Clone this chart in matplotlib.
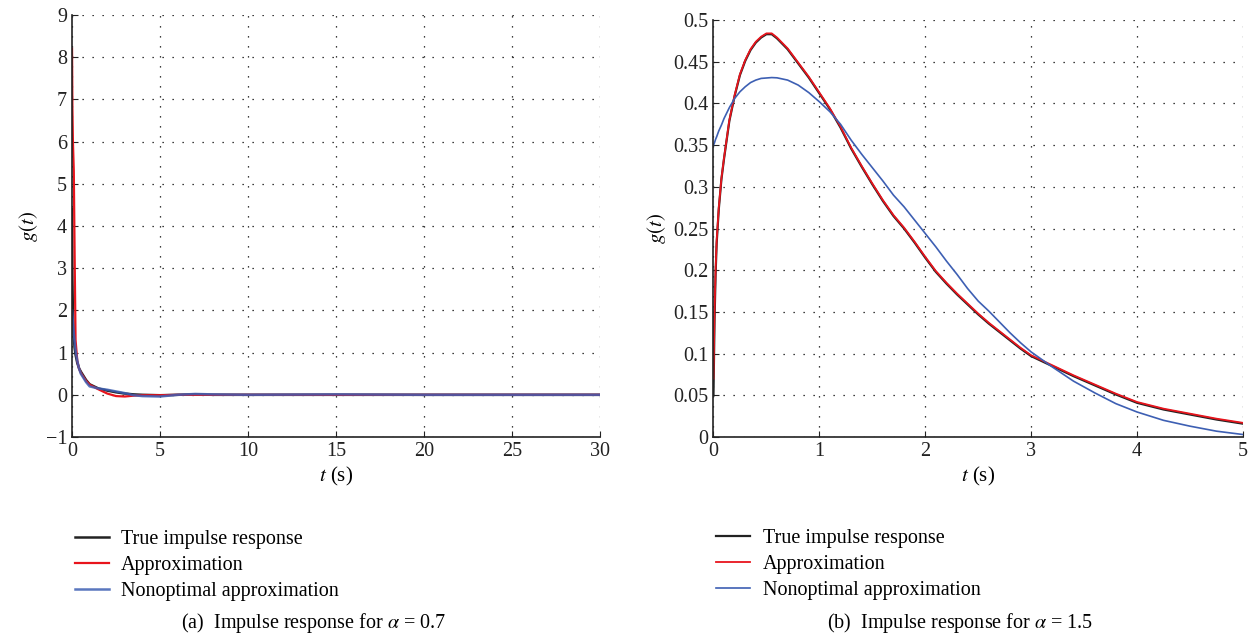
import matplotlib
matplotlib.use("Agg")
import matplotlib.pyplot as plt
from matplotlib.ticker import FuncFormatter

plt.rcParams['font.family'] = ['Liberation Serif', 'DejaVu Serif']
plt.rcParams['mathtext.fontset'] = 'stix'
plt.rcParams['axes.unicode_minus'] = True

# (a) alpha = 0.7
t_a = [0, 0.02, 0.05, 0.1, 0.15, 0.2, 0.3, 0.4, 0.5, 0.8, 1.0, 1.5, 2.0, 2.5,
       3.0, 3.5, 4.0, 5.0, 6.0, 7.0, 8.0, 10.0, 15.0, 20.0, 25.0, 30.0]
true_a = [4.4, 2.8, 1.9, 1.35, 1.1, 0.95, 0.75, 0.63, 0.55, 0.35, 0.25, 0.15, 0.1, 0.06,
          0.03, 0.01, 0.0, -0.01, 0.0, 0.01, 0.0, 0.0, 0.0, 0.0, 0.0, 0.0]
approx_a = [8.2, 6.8, 6.0, 5.3, 3.2, 1.3, 0.8, 0.62, 0.52, 0.33, 0.24, 0.13, 0.03, -0.03,
            -0.04, -0.02, -0.01, -0.01, 0.0, 0.0, 0.0, 0.0, 0.0, 0.0, 0.0, 0.0]
nonopt_a = [2.0, 1.9, 1.7, 1.45, 1.25, 1.05, 0.8, 0.62, 0.5, 0.3, 0.2, 0.15, 0.12, 0.08,
            0.04, -0.01, -0.03, -0.04, 0.0, 0.02, 0.01, 0.0, 0.01, 0.0, 0.0, 0.0]

# (b) alpha = 1.5
t_b = [0, 0.01, 0.02, 0.03, 0.05, 0.075, 0.1, 0.15, 0.2, 0.25, 0.3, 0.35, 0.4, 0.45,
       0.5, 0.55, 0.6, 0.7, 0.8, 0.9, 1.0, 1.1, 1.2, 1.3, 1.4, 1.5, 1.6, 1.7, 1.8, 1.9,
       2.0, 2.1, 2.2, 2.3, 2.4, 2.5, 2.6, 2.7, 2.8, 2.9, 3.0, 3.2, 3.4, 3.6, 3.8, 4.0,
       4.25, 4.5, 4.75, 5.0]
true_b = [0.05, 0.14, 0.195, 0.232, 0.273, 0.309, 0.334, 0.379, 0.409, 0.434, 0.451, 0.464,
          0.473, 0.479, 0.483, 0.483, 0.478, 0.465, 0.448, 0.431, 0.412, 0.393, 0.371, 0.346,
          0.324, 0.303, 0.283, 0.265, 0.25, 0.233, 0.215, 0.198, 0.184, 0.171, 0.159, 0.147,
          0.136, 0.126, 0.116, 0.106, 0.097, 0.085, 0.073, 0.062, 0.051, 0.041, 0.033, 0.027,
          0.021, 0.016]
approx_b = [0.07, 0.15, 0.2, 0.235, 0.275, 0.31, 0.335, 0.38, 0.41, 0.435, 0.452, 0.465,
            0.474, 0.48, 0.484, 0.484, 0.479, 0.466, 0.449, 0.432, 0.413, 0.394, 0.372, 0.347,
            0.325, 0.304, 0.284, 0.266, 0.251, 0.234, 0.216, 0.199, 0.185, 0.172, 0.16, 0.148,
            0.137, 0.127, 0.117, 0.107, 0.098, 0.086, 0.074, 0.063, 0.052, 0.042, 0.034, 0.028,
            0.022, 0.017]
nonopt_b = [0.35, 0.353, 0.357, 0.36, 0.367, 0.374, 0.382, 0.395, 0.406, 0.414, 0.42, 0.425,
            0.428, 0.43, 0.4305, 0.431, 0.4307, 0.428, 0.422, 0.413, 0.402, 0.39, 0.375, 0.356,
            0.339, 0.323, 0.307, 0.29, 0.276, 0.26, 0.244, 0.228, 0.211, 0.195, 0.178, 0.163,
            0.151, 0.138, 0.125, 0.113, 0.102, 0.084, 0.067, 0.053, 0.04, 0.03, 0.02, 0.013,
            0.007, 0.003]

labels = ['True impulse response', 'Approximation', 'Nonoptimal approximation']
colors = ['#222222', '#e8141c', '#3d5fb3']

fig = plt.figure(figsize=(12.55, 6.44), dpi=100)
ax1 = fig.add_axes([0.0574, 0.3214, 0.4207, 0.6553])
ax2 = fig.add_axes([0.5685, 0.3214, 0.4219, 0.6475])


def style(ax):
    for s in ['top', 'right']:
        ax.spines[s].set_visible(False)
    for s in ['left', 'bottom']:
        ax.spines[s].set_linewidth(1.2)
        ax.spines[s].set_color('#222222')
    ax.grid(True, color='black', linestyle=(0, (1, 7)), linewidth=0.9)
    ax.tick_params(direction='in', length=4, labelsize=14.5, colors='#222222')
    ax.set_xlabel('$t$ (s)', fontsize=15, labelpad=3)
    ax.set_ylabel('$g(t)$', fontsize=15)


ax1.plot(t_a, true_a, color=colors[0], lw=1.8, label=labels[0])
ax1.plot(t_a, approx_a, color=colors[1], lw=1.6, label=labels[1])
ax1.plot(t_a, nonopt_a, color=colors[2], lw=1.8, alpha=0.85, label=labels[2])
ax1.set_xlim(0, 30)
ax1.set_ylim(-1, 9)
ax1.set_xticks(range(0, 31, 5))
ax1.set_yticks(range(-1, 10))
style(ax1)

ax2.plot(t_b, true_b, color=colors[0], lw=1.6, label=labels[0])
ax2.plot(t_b, approx_b, color=colors[1], lw=1.3, label=labels[1])
ax2.plot(t_b, nonopt_b, color=colors[2], lw=1.2, label=labels[2])
ax2.set_xlim(0, 5)
ax2.set_ylim(0, 0.5)
ax2.set_xticks(range(0, 6))
ax2.set_yticks([i * 0.05 for i in range(11)])
ax2.yaxis.set_major_formatter(FuncFormatter(lambda v, p: '%g' % round(v, 2)))
style(ax2)

for ax in (ax1, ax2):
    ax.legend(loc='upper left', bbox_to_anchor=(-0.01, -0.2), frameon=False,
              fontsize=14.5, handlelength=1.7, handletextpad=0.6, labelspacing=0.35,
              borderaxespad=0)

fig.text(0.25, 0.025, r'(a)  Impulse response for $\alpha$ = 0.7', fontsize=14.5, ha='center')
fig.text(0.765, 0.025, r'(b)  Impulse response for $\alpha$ = 1.5', fontsize=14.5, ha='center')

fig.savefig('out.png', dpi=100)
